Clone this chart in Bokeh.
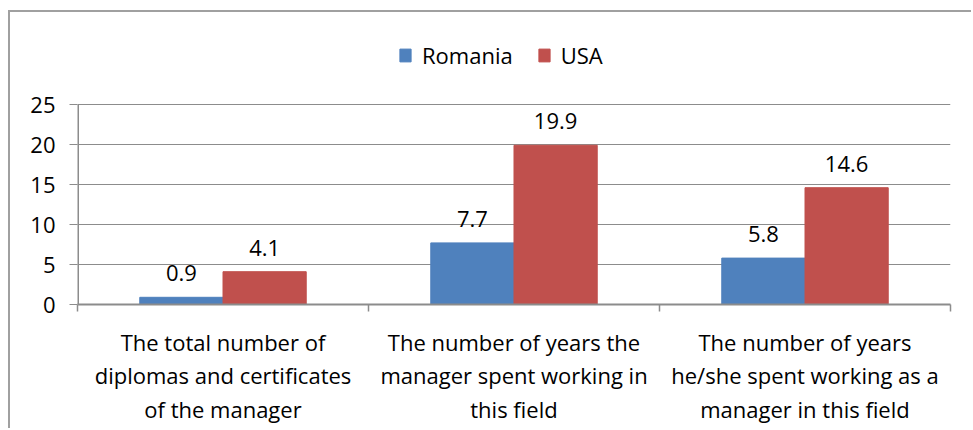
from bokeh.plotting import figure
from bokeh.models import (ColumnDataSource, Range1d, LinearAxis, FixedTicker,
                          Legend, LegendItem)
from bokeh.transform import dodge
from bokeh.core.properties import value
from bokeh.embed import file_html
from bokeh.resources import INLINE

categories = [
    "The total number of\ndiplomas and certificates\nof the manager",
    "The number of years the\nmanager spent working in\nthis field",
    "The number of years\nhe/she spent working as a\nmanager in this field",
]
romania = [0.9, 7.7, 5.8]
usa = [4.1, 19.9, 14.6]
y_ticks = [0, 5, 10, 15, 20, 25]

FONT = "Open Sans"
FS = "22px"
BLUE = "#4F81BD"
RED = "#C0504D"
GRID = "#8c8c8c"

# category centres on a numeric axis: category i occupies [i, i+1]
centres = [i + 0.5 for i in range(len(categories))]
boundaries = list(range(len(categories) + 1))

src = ColumnDataSource(dict(
    x=centres,
    romania=romania,
    usa=usa,
    romania_lbl=[f"{v:.1f}" for v in romania],
    usa_lbl=[f"{v:.1f}" for v in usa],
))

# the frame extends above the 25 gridline so the legend can sit inside it
p = figure(
    x_range=Range1d(0, len(categories)),
    y_range=Range1d(0, 35.25),
    width=963, height=418,
    output_backend="svg", toolbar_location=None,
    x_axis_location=None, y_axis_location=None,
    min_border_left=67, min_border_right=23, min_border_top=10, min_border_bottom=126,
)
p.styles = {"border-top": "2px solid #a0a0a0", "border-left": "2px solid #a0a0a0",
            "margin-top": "10px", "margin-left": "8px"}
p.outline_line_color = None
p.background_fill_color = "white"
p.border_fill_color = "white"

# y axis (line drawn only from 0 to 25 below)
yaxis = LinearAxis(ticker=FixedTicker(ticks=y_ticks, minor_ticks=[]))
yaxis.axis_line_color = None
yaxis.major_tick_line_color = GRID
yaxis.major_tick_in = 0
yaxis.major_tick_out = 8
yaxis.minor_tick_line_color = None
yaxis.major_label_standoff = 14
yaxis.major_label_text_font = FONT
yaxis.major_label_text_font_size = FS
yaxis.major_label_text_color = "black"
p.add_layout(yaxis, "left")
p.segment(x0=[p.x_range.start], y0=[y_ticks[0]], x1=[p.x_range.start], y1=[y_ticks[-1]],
          line_color=GRID, line_width=3)

# x axis: labels at centres, boundary ticks as minor ticks
xaxis = LinearAxis(ticker=FixedTicker(ticks=centres, minor_ticks=boundaries))
xaxis.major_label_overrides = {c: lab for c, lab in zip(centres, categories)}
xaxis.axis_line_color = GRID
xaxis.axis_line_width = 2
xaxis.major_tick_line_color = None
xaxis.minor_tick_line_color = GRID
xaxis.minor_tick_line_width = 1.5
xaxis.minor_tick_in = 0
xaxis.minor_tick_out = 7
xaxis.major_tick_out = 7
xaxis.major_label_standoff = 15
xaxis.major_label_text_font = FONT
xaxis.major_label_text_font_size = FS
xaxis.major_label_text_color = "black"
xaxis.major_label_text_line_height = 1.13
p.add_layout(xaxis, "below")

p.ygrid.ticker = FixedTicker(ticks=y_ticks)
p.ygrid.grid_line_color = GRID
p.ygrid.grid_line_width = 1
p.xgrid.grid_line_color = None

W = 0.286
r1 = p.vbar(x=dodge("x", -W / 2), top="romania", width=W, bottom=0,
            source=src, fill_color=BLUE, line_color=BLUE)
r2 = p.vbar(x=dodge("x", W / 2), top="usa", width=W, bottom=0,
            source=src, fill_color=RED, line_color=RED)

for col, off in (("romania", -W / 2), ("usa", W / 2)):
    p.text(x=dodge("x", off), y=col, text=col + "_lbl", source=src,
           text_align="center", text_baseline="alphabetic", y_offset=-24,
           text_font=value(FONT), text_font_size=FS, text_color="black")

legend = Legend(items=[LegendItem(label="Romania", renderers=[r1]),
                       LegendItem(label="USA", renderers=[r2])],
                orientation="horizontal", location=(321, 234))
legend.glyph_width = 14
legend.glyph_height = 16
legend.label_standoff = 10
legend.spacing = 24
legend.padding = 0
legend.margin = 0
legend.border_line_color = None
legend.background_fill_alpha = 0
legend.label_text_font = FONT
legend.label_text_font_size = FS
legend.label_text_color = "black"
p.add_layout(legend, "center")

open("out.html", "w").write(file_html(p, INLINE))
